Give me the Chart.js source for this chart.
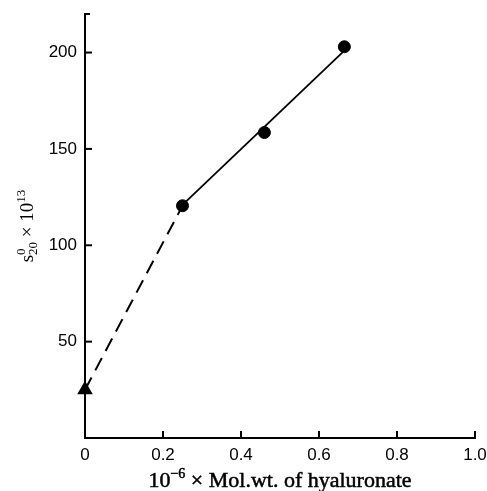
<!DOCTYPE html>
<html>
<head>
<meta charset="utf-8">
<script src="https://cdn.jsdelivr.net/npm/chart.js@4"></script>
<style>
  html, body { margin: 0; padding: 0; background: #fff; }
  #wrap { width: 487px; height: 491px; }
</style>
</head>
<body>
<div id="wrap"><canvas id="sedChart"></canvas></div>
<script>
// values
const molWt = [0.25, 0.46, 0.665];          // 10^-6 x mol. wt.
const sValues = [120.5, 158.5, 203];         // s20 x 10^13
const extrapX = [0, 0.25];                   // dashed extrapolation
const extrapY = [25, 120.5];
const fitX = [0.25, 0.665];                  // drawn line through the points
const fitY = [121, 201];
const xTicks = [0, 0.2, 0.4, 0.6, 0.8, 1.0];
const yTicks = [50, 100, 150, 200];

function pairs(xs, ys) {
    return xs.map(function (x, i) { return { x: x, y: ys[i] }; });
}

// draw tick marks pointing into the plot, like the printed figure
const inwardTicks = {
    id: 'inwardTicks',
    afterDraw: function (chart) {
        const ctx = chart.ctx;
        const xs = chart.scales.x, ys = chart.scales.y;
        const left = xs.getPixelForValue(0), bottom = ys.getPixelForValue(0);
        ctx.save();
        ctx.strokeStyle = '#000';
        ctx.lineWidth = 2;
        xTicks.forEach(function (v) {
            if (v === 0) return;
            const px = xs.getPixelForValue(v);
            ctx.beginPath();
            ctx.moveTo(px, bottom);
            ctx.lineTo(px, bottom - 7);
            ctx.stroke();
        });
        yTicks.forEach(function (v) {
            const py = ys.getPixelForValue(v);
            ctx.beginPath();
            ctx.moveTo(left, py);
            ctx.lineTo(left + 7, py);
            ctx.stroke();
        });
        // short cap at the top of the y axis
        const top = ys.getPixelForValue(220);
        ctx.beginPath();
        ctx.moveTo(left, top);
        ctx.lineTo(left + 5, top);
        ctx.stroke();
        ctx.restore();
    }
};

// axis titles with super/subscripts
function drawParts(ctx, parts, cx, baseY) {
    let total = 0;
    parts.forEach(function (p) {
        ctx.font = p.font;
        p.w = p.stack ? Math.max(ctx.measureText(p.stack[0]).width, ctx.measureText(p.stack[1]).width) : ctx.measureText(p.text).width;
        total += p.w;
    });
    let x = cx - total / 2;
    parts.forEach(function (p) {
        ctx.font = p.font;
        if (p.stack) {
            ctx.fillText(p.stack[0], x, baseY - 8);
            ctx.fillText(p.stack[1], x, baseY + 4);
        } else {
            ctx.fillText(p.text, x, baseY + (p.dy || 0));
            if (p.heavy) ctx.strokeText(p.text, x, baseY + (p.dy || 0));
        }
        x += p.w;
    });
}

const axisTitles = {
    id: 'axisTitles',
    afterDraw: function (chart) {
        const ctx = chart.ctx;
        const area = chart.chartArea;
        ctx.save();
        ctx.fillStyle = '#000';
        ctx.strokeStyle = '#000';
        ctx.lineWidth = 0.5;
        ctx.textAlign = 'left';
        ctx.textBaseline = 'alphabetic';
        drawParts(ctx, [
            { text: '10', font: '22px "Liberation Serif", serif', heavy: true },
            { text: '\u22126', font: '14px "Liberation Serif", serif', dy: -9, heavy: true },
            { text: ' \u00d7 Mol.wt. of hyaluronate', font: '22px "Liberation Serif", serif', heavy: true }
        ], (area.left + area.right) / 2, 487);

        ctx.translate(33, (area.top + area.bottom) / 2);
        ctx.rotate(-Math.PI / 2);
        drawParts(ctx, [
            { text: 's', font: '19px "Liberation Serif", serif' },
            { stack: ['0', '20'], font: '13px "Liberation Serif", serif' },
            { text: ' \u00d7 10', font: '19px "Liberation Serif", serif' },
            { text: '13', font: '13px "Liberation Serif", serif', dy: -8 }
        ], 0, 0);
        ctx.restore();
    }
};

const tickFont = { family: '"Liberation Sans", Arial, sans-serif', size: 17 };

new Chart(document.getElementById('sedChart'), {
    type: 'scatter',
    data: {
        datasets: [{
            // dashed extrapolation to the triangle at zero
            data: pairs(extrapX, extrapY),
            showLine: true,
            clip: false,
            borderColor: '#000',
            borderWidth: 2,
            borderDash: [14, 8],
            pointStyle: 'triangle',
            pointRadius: [7, 0],
            pointBackgroundColor: '#000',
            pointBorderColor: '#000'
        }, {
            data: pairs(fitX, fitY),
            showLine: true,
            borderColor: '#000',
            borderWidth: 1.8,
            pointRadius: 0
        }, {
            data: pairs(molWt, sValues),
            showLine: false,
            clip: false,
            pointRadius: 6,
            pointBackgroundColor: '#000',
            pointBorderColor: '#000'
        }]
    },
    options: {
        responsive: true,
        maintainAspectRatio: false,
        animation: false,
        layout: { padding: { top: 14, right: 12, left: 0, bottom: 0 } },
        plugins: { legend: { display: false }, tooltip: { enabled: false } },
        scales: {
            x: {
                type: 'linear',
                min: 0,
                max: 1.0,
                afterBuildTicks: function (scale) {
                    scale.ticks = xTicks.map(function (v) { return { value: v }; });
                },
                afterFit: function (scale) {
                    scale.height = 53;
                    scale.paddingLeft = 0;
                    scale.paddingRight = 0;
                },
                ticks: {
                    color: '#000',
                    font: tickFont,
                    padding: 7,
                    maxRotation: 0,
                    callback: function (v) { return v === 0 ? '0' : v.toFixed(1); }
                },
                grid: { drawOnChartArea: false, drawTicks: false },
                border: { color: '#000', width: 2 }
            },
            y: {
                type: 'linear',
                min: 0,
                max: 220,
                afterBuildTicks: function (scale) {
                    scale.ticks = yTicks.map(function (v) { return { value: v }; });
                },
                afterFit: function (scale) {
                    scale.width = 85;
                    scale.paddingTop = 0;
                    scale.paddingBottom = 0;
                },
                ticks: {
                    color: '#000',
                    font: tickFont,
                    padding: 8
                },
                grid: { drawOnChartArea: false, drawTicks: false },
                border: { color: '#000', width: 2 }
            }
        }
    },
    plugins: [inwardTicks, axisTitles]
});
</script>
</body>
</html>
